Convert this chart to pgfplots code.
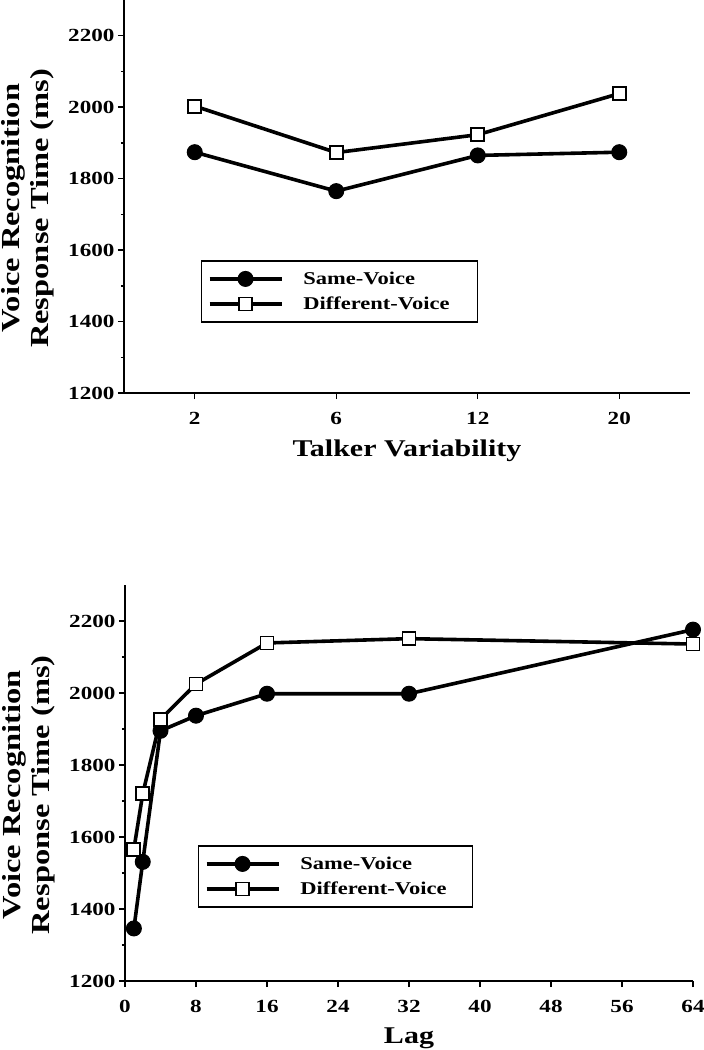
\documentclass[border=0pt]{standalone}
\usepackage{fontspec}
\setmainfont{Liberation Serif}[FakeStretch=1.25]
\usepackage{pgfplots}
\pgfplotsset{compat=1.18}
\begin{document}
\begin{tikzpicture}
\useasboundingbox (0,0) rectangle (704pt,-1050pt);
\pgfplotsset{
  rtstyle/.style={
    scale only axis,
    axis x line*=bottom, axis y line*=left,
    axis line style={line width=1.8pt},
    tick align=outside,
    major tick length=6pt, minor tick length=3pt,
    tick style={line width=1.4pt, black},
    ymin=1200, ymax=2300,
    ytick={1200,1400,...,2200},
    yticklabels={1200,1400,1600,1800,2000,2200},
    minor ytick={1300,1500,...,2100},
    ticklabel style={font=\fontsize{18.5}{18.5}\selectfont\bfseries},
    xticklabel style={yshift=-10pt},
    label style={font=\fontsize{24}{24}\selectfont\bfseries},
    xlabel style={yshift=-8pt},
    every axis y label/.style={at={(axis description cs:-0.17,0.47)}, rotate=90, anchor=center, align=center, font=\fontsize{26}{29}\selectfont\bfseries},
    legend cell align=left,
    legend style={draw=black, line width=1.5pt, font=\fontsize{18}{18}\selectfont\bfseries, inner xsep=6pt, inner ysep=9pt, row sep=7pt, anchor=north west, /tikz/every odd column/.append style={column sep=18pt}},
    legend image code/.code={\draw[mark repeat=2,mark phase=2,##1] plot coordinates {(0pt,0pt) (36pt,0pt) (72pt,0pt)};},
  },
  samev/.style={black, line width=3.6pt, mark=*, mark size=7.5pt, mark options={solid, fill=black, line width=1pt}},
  diffv/.style={black, line width=3.6pt, mark=square*, mark size=6.5pt, mark options={solid, fill=white, line width=1.8pt}},
}
\begin{axis}[rtstyle, at={(124pt,-393pt)}, anchor=south west, width=566pt, height=393pt,
  xmin=-0.5, xmax=3.5, xtick={0,1,2,3}, xticklabels={2,6,12,20},
  xlabel={Talker Variability}, ylabel={Voice Recognition\\Response Time (ms)},
  legend style={at={(axis description cs:0.136,0.338)}}]
\addplot[samev] coordinates {(0,1874) (1,1765) (2,1865) (3,1874)};
\addlegendentry{\makebox[166pt][l]{Same-Voice}}
\addplot[diffv] coordinates {(0,2003) (1,1873) (2,1923) (3,2038)};
\addlegendentry{\makebox[166pt][l]{Different-Voice}}
\end{axis}
\begin{axis}[rtstyle, at={(125pt,-981pt)}, anchor=south west, width=568pt, height=396pt,
  xmin=0, xmax=64, xtick={0,8,...,64},
  xticklabels={0,8,16,24,32,40,48,56,64},
  xlabel={Lag}, ylabel={Voice Recognition\\Response Time (ms)},
  legend style={at={(axis description cs:0.1285,0.343)}}]
\addplot[samev] coordinates {(1,1346) (2,1531) (4,1895) (8,1937) (16,1998) (32,1998) (64,2176)};
\addlegendentry{\makebox[164pt][l]{Same-Voice}}
\addplot[diffv] coordinates {(1,1566) (2,1720) (4,1927) (8,2025) (16,2139) (32,2151) (64,2136)};
\addlegendentry{\makebox[164pt][l]{Different-Voice}}
\end{axis}
\end{tikzpicture}
\end{document}
